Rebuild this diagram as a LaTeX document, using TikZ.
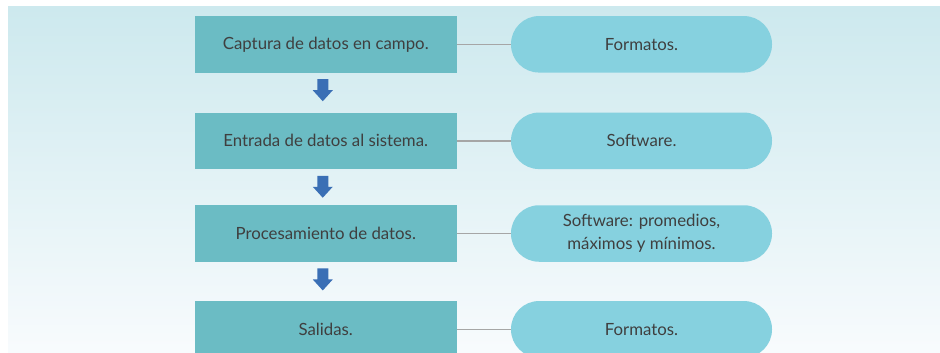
\documentclass[tikz,border=0pt]{standalone}
\usepackage{fontspec}
\setmainfont{Lato}
\usetikzlibrary{calc}
\definecolor{bgtop}{HTML}{CDE9EE}
\definecolor{bgbot}{HTML}{F8FBFD}
\definecolor{boxfill}{HTML}{6BBCC4}
\definecolor{pillfill}{HTML}{86D1DF}
\definecolor{txt}{HTML}{3F3F3F}
\definecolor{arrowblue}{HTML}{3A6FB5}
\definecolor{linkgray}{HTML}{A6A6A6}
\tikzset{
  stepbox/.style={rectangle, fill=boxfill, minimum width=261.5pt, minimum height=56.5pt, inner sep=0pt, text=txt, font=\fontsize{16.8}{23}\selectfont, align=center},
  pillbox/.style={rectangle, rounded corners=28pt, fill=pillfill, minimum width=261pt, minimum height=56.5pt, inner sep=0pt, text=txt, font=\fontsize{16.8}{23.5}\selectfont, align=center},
  link/.style={draw=linkgray, line width=1.5pt},
}
\begin{document}
\begin{tikzpicture}[x=1pt,y=-1pt]
\useasboundingbox (0,0) rectangle (940,353);
\clip (0,0) rectangle (940,353);
\shade[top color=bgtop, bottom color=bgbot] (8,7) rectangle (940,353);
\node[stepbox] (b1) at (325.75,44.3) {Captura de datos en campo.};
\node[stepbox] (b2) at (325.75,140.8) {Entrada de datos al sistema.};
\node[stepbox] (b3) at (325.75,233.5) {Procesamiento de datos.};
\node[stepbox] (b4) at (325.75,329.3) {Salidas.};
\node[pillbox] (p1) at (641.5,44.3) {Formatos.};
\node[pillbox] (p2) at (641.5,140.8) {Software.};
\node[pillbox] (p3) at (641.5,233.5) {Software: promedios,\\máximos y mínimos.};
\node[pillbox] (p4) at (641.5,329.3) {Formatos.};
\foreach \i in {1,2,3,4}{\draw[link] (b\i.east) -- (p\i.west);}
\foreach \i/\j in {1/2,2/3,3/4}{
  \coordinate (a\i) at ($(b\i.south)+(-3,6.5)$);
  \fill[arrowblue] (a\i) ++(-5.5,0) -- ++(11,0) -- ++(0,11) -- ++(4.5,0) -- ++(-10,11) -- ++(-10,-11) -- ++(4.5,0) -- cycle;
}
\end{tikzpicture}
\end{document}
